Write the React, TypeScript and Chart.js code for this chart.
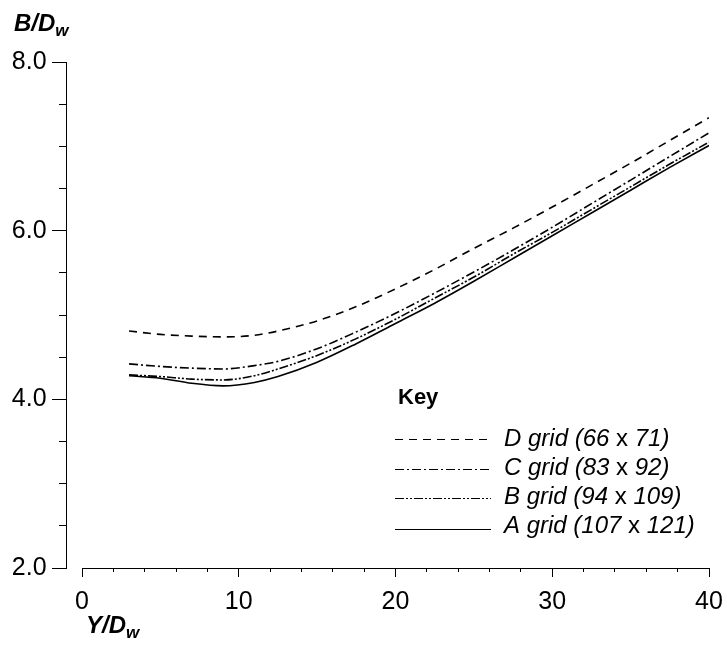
import React, { useEffect, useRef } from "react";
import { Chart, registerables } from "chart.js";

Chart.register(...registerables);

const FONT = "'Liberation Sans', Arial, Helvetica, sans-serif";

// Y/Dw positions
const xValues = [3, 5, 7, 9, 11, 12.5, 15, 17.5, 20, 22.5, 25, 27.5, 30, 32.5, 35, 37.5, 40];
// B/Dw for each grid
const gridD = [4.81, 4.77, 4.75, 4.74, 4.76, 4.81, 4.93, 5.1, 5.31, 5.54, 5.79, 6.03, 6.28, 6.54, 6.8, 7.07, 7.34];
const gridC = [4.42, 4.39, 4.37, 4.36, 4.4, 4.45, 4.6, 4.8, 5.02, 5.26, 5.51, 5.77, 6.04, 6.32, 6.6, 6.88, 7.16];
const gridB = [4.29, 4.27, 4.24, 4.23, 4.28, 4.36, 4.52, 4.72, 4.95, 5.2, 5.45, 5.72, 5.98, 6.25, 6.52, 6.79, 7.05];
const gridA = [4.28, 4.25, 4.19, 4.16, 4.2, 4.27, 4.44, 4.66, 4.9, 5.14, 5.4, 5.67, 5.94, 6.21, 6.48, 6.75, 7.01];

const seriesNames = ["D grid (66 x 71)", "C grid (83 x 92)", "B grid (94 x 109)", "A grid (107 x 121)"];
const seriesDashes = [[8, 6], [9, 3, 2, 3], [9, 2, 2, 2, 2, 2], []];

const xMajorTicks = [0, 10, 20, 30, 40];
const xMinorStep = 2;
const yMajorTicks = [2, 4, 6, 8];
const yMinorStep = 0.5;

const Y_AXIS_AT = -1.02;
const Y_LABELS_AT = -2.26;

const annotPlugin = {
  id: "annot",
  afterDraw(chart: any) {
    const ctx = chart.ctx as CanvasRenderingContext2D;
    ctx.save();
    ctx.fillStyle = "#000";
    ctx.textAlign = "left";
    ctx.textBaseline = "alphabetic";
    const sub = (main: string, s: string, x: number, y: number) => {
      ctx.font = `italic bold 24px ${FONT}`;
      ctx.fillText(main, x, y);
      const w = ctx.measureText(main).width;
      ctx.font = `italic bold 17px ${FONT}`;
      ctx.fillText(s, x + w, y + 5);
    };
    sub("B/D", "w", 14, 31);
    sub("Y/D", "w", 86, 633);

    // Key
    ctx.font = `bold 22px ${FONT}`;
    ctx.fillText("Key", 398, 404);
    const lineYs = [439, 469, 498, 529];
    const textYs = [446, 475, 504, 533];
    chart.data.datasets.forEach((ds: any, i: number) => {
      ctx.save();
      ctx.strokeStyle = "#000";
      ctx.lineWidth = 1;
      ctx.setLineDash(ds.borderDash || []);
      ctx.beginPath();
      ctx.moveTo(395, lineYs[i] + 0.5);
      ctx.lineTo(491, lineYs[i] + 0.5);
      ctx.stroke();
      ctx.restore();
      const parts = String(ds.label).split(" x ");
      let x = 504;
      ctx.font = `italic 24px ${FONT}`;
      ctx.fillText(parts[0], x, textYs[i]);
      x += ctx.measureText(parts[0]).width;
      ctx.font = `24px ${FONT}`;
      ctx.fillText(" x ", x, textYs[i]);
      x += ctx.measureText(" x ").width;
      ctx.font = `italic 24px ${FONT}`;
      ctx.fillText(parts[1], x, textYs[i]);
    });
    ctx.restore();
  },
};

const noPad = (s: any) => {
  s.paddingLeft = 0;
  s.paddingRight = 0;
  s.paddingTop = 0;
  s.paddingBottom = 0;
};

export default function App() {
  const ref = useRef<HTMLCanvasElement | null>(null);
  useEffect(() => {
    document.body.style.margin = "0";
    const seriesValues = [gridD, gridC, gridB, gridA];
    const datasets = seriesValues.map((vals, i) => ({
      label: seriesNames[i],
      data: xValues.map((x, j) => ({ x, y: vals[j] })),
      borderColor: "#000",
      borderWidth: 1.6,
      borderDash: seriesDashes[i],
      pointRadius: 0,
      fill: false,
      cubicInterpolationMode: "monotone" as const,
      xAxisID: "x",
      yAxisID: "y",
    }));
    const gridCommon = { display: true, drawOnChartArea: false, drawTicks: true, tickColor: "#000", tickWidth: 1 };
    const chart = new Chart(ref.current!, {
      type: "line",
      data: { datasets },
      options: {
        responsive: false,
        animation: false,
        devicePixelRatio: 1,
        layout: { padding: { left: 82, right: 18, top: 62, bottom: 79 } },
        plugins: { legend: { display: false }, tooltip: { enabled: false } },
        scales: {
          x: {
            type: "linear",
            position: { y: 2 } as any,
            min: 0,
            max: 40,
            afterBuildTicks: (s: any) => { s.ticks = xMajorTicks.map((v) => ({ value: v })); },
            afterFit: noPad,
            grid: { ...gridCommon, tickLength: 8 },
            border: { display: true, color: "#000", width: 1 },
            ticks: { color: "#000", font: { family: FONT, size: 25 }, padding: 11, maxRotation: 0 },
          },
          x2: {
            type: "linear",
            position: { y: 2 } as any,
            min: 0,
            max: 40,
            afterFit: noPad,
            ticks: { stepSize: xMinorStep, display: false },
            grid: { ...gridCommon, tickLength: 4 },
            border: { display: false },
          },
          y: {
            type: "linear",
            position: { x: Y_AXIS_AT } as any,
            min: 2,
            max: 8,
            afterBuildTicks: (s: any) => { s.ticks = yMajorTicks.map((v) => ({ value: v })); },
            afterFit: noPad,
            grid: { ...gridCommon, tickLength: 14 },
            border: { display: true, color: "#000", width: 1 },
            ticks: { display: false },
          },
          y2: {
            type: "linear",
            position: { x: Y_AXIS_AT } as any,
            min: 2,
            max: 8,
            afterFit: noPad,
            ticks: { stepSize: yMinorStep, display: false },
            grid: { ...gridCommon, tickLength: 7 },
            border: { display: false },
          },
          yLabels: {
            type: "linear",
            position: { x: Y_LABELS_AT } as any,
            min: 2,
            max: 8,
            afterBuildTicks: (s: any) => { s.ticks = yMajorTicks.map((v) => ({ value: v })); },
            afterFit: noPad,
            grid: { display: false, drawTicks: false },
            border: { display: false },
            ticks: { color: "#000", font: { family: FONT, size: 25 }, padding: 0, callback: (v: any) => Number(v).toFixed(1) },
          },
        },
      },
      plugins: [annotPlugin],
    });
    return () => chart.destroy();
  }, []);
  return (
    <div style={{ position: "absolute", left: 0, top: 0, width: 727, height: 647, background: "#fff" }}>
      <canvas ref={ref} width={727} height={647} />
    </div>
  );
}
